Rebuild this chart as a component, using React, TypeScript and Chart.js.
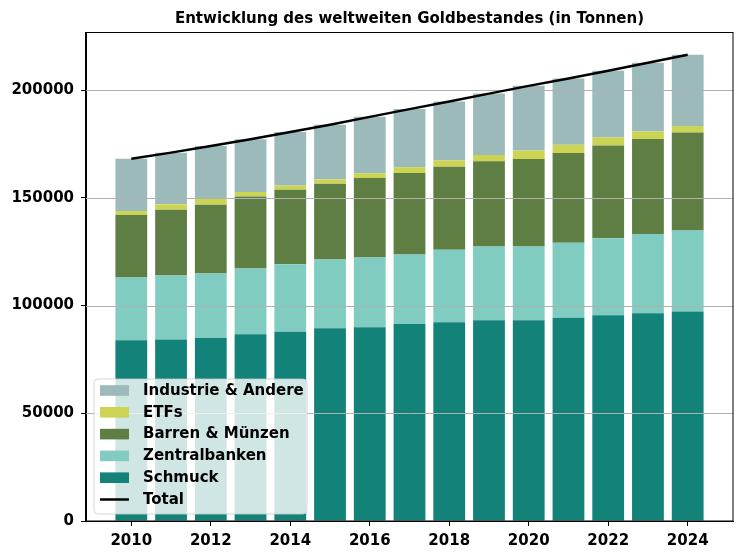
import React, { useEffect, useRef } from "react";
import { Chart, registerables } from "chart.js";

Chart.register(...registerables);

// Weltweiter Goldbestand nach Verwendung, in Tonnen
const years = [2010, 2011, 2012, 2013, 2014, 2015, 2016, 2017, 2018, 2019, 2020, 2021, 2022, 2023, 2024];
const schmuck = [83900, 84300, 85000, 86700, 87900, 89500, 89900, 91400, 92300, 93200, 93200, 94400, 95500, 96400, 97200];
const zentralbanken = [29100, 29700, 29900, 30500, 31300, 31900, 32400, 32300, 33600, 34200, 34200, 34800, 35700, 36800, 37700];
const barrenMuenzen = [29000, 30500, 31900, 33400, 34600, 35200, 36900, 37800, 38600, 39600, 40700, 41600, 43100, 44100, 45400];
const etfs = [1900, 2500, 3000, 2100, 2000, 2000, 2200, 2700, 2800, 2900, 3900, 3900, 3700, 3500, 3100];
const industrieAndere = [24300, 24000, 24300, 24500, 24800, 25300, 26200, 27000, 27400, 28500, 30000, 30700, 31000, 31900, 33000];
const total = [168200, 171000, 174100, 177200, 180600, 183900, 187600, 191200, 194700, 198400, 202000, 205400, 209000, 212700, 216400];

const yTicks = [0, 50000, 100000, 150000, 200000];
const xTicks = [2010, 2012, 2014, 2016, 2018, 2020, 2022, 2024];

const TITLE = "Entwicklung des weltweiten Goldbestandes (in Tonnen)";
const FONT = "'DejaVu Sans', sans-serif";

const toPoints = (vals: number[]) => vals.map((v, i) => ({ x: years[i], y: v }));

// Gitterlinien liegen über den Balken, aber unter der Total-Linie
const gridPlugin = {
  id: "gridOverBars",
  beforeDatasetDraw(chart: any, args: any) {
    if (args.meta.type !== "line") return;
    const { ctx, chartArea } = chart;
    const y = chart.scales.y;
    ctx.save();
    ctx.strokeStyle = "#b0b0b0";
    ctx.lineWidth = 1;
    for (const t of y.ticks) {
      if (t.value === 0) continue;
      const py = Math.round(y.getPixelForValue(t.value)) + 0.5;
      ctx.beginPath();
      ctx.moveTo(chartArea.left, py);
      ctx.lineTo(chartArea.right, py);
      ctx.stroke();
    }
    ctx.restore();
  },
};

// Rahmen, Titel und Legende
const decorPlugin = {
  id: "decor",
  afterDraw(chart: any) {
    const { ctx, chartArea } = chart;
    ctx.save();
    // Rahmen
    ctx.strokeStyle = "#000";
    ctx.lineWidth = 1;
    ctx.strokeRect(
      Math.round(chartArea.left) - 0.5,
      Math.round(chartArea.top) + 0.5,
      Math.round(chartArea.right - chartArea.left) + 0.5,
      Math.round(chartArea.bottom - chartArea.top) - 0.5
    );

    // Titel
    ctx.fillStyle = "#000";
    ctx.font = `bold 15px ${FONT}`;
    ctx.textAlign = "center";
    ctx.textBaseline = "middle";
    ctx.fillText(TITLE, (chartArea.left + chartArea.right) / 2, chartArea.top - 13);

    // Legende unten links
    const order = [4, 3, 2, 1, 0, 5];
    const rowH = 21.8;
    const boxW = 213;
    const boxH = 135;
    const bx = chartArea.left + 8;
    const by = chartArea.bottom - 7 - boxH;
    ctx.beginPath();
    const r = 4;
    ctx.moveTo(bx + r, by);
    ctx.lineTo(bx + boxW - r, by);
    ctx.quadraticCurveTo(bx + boxW, by, bx + boxW, by + r);
    ctx.lineTo(bx + boxW, by + boxH - r);
    ctx.quadraticCurveTo(bx + boxW, by + boxH, bx + boxW - r, by + boxH);
    ctx.lineTo(bx + r, by + boxH);
    ctx.quadraticCurveTo(bx, by + boxH, bx, by + boxH - r);
    ctx.lineTo(bx, by + r);
    ctx.quadraticCurveTo(bx, by, bx + r, by);
    ctx.closePath();
    ctx.fillStyle = "rgba(255,255,255,0.8)";
    ctx.fill();
    ctx.strokeStyle = "rgba(204,204,204,0.8)";
    ctx.stroke();

    ctx.textAlign = "left";
    ctx.textBaseline = "middle";
    ctx.font = `bold 15px ${FONT}`;
    order.forEach((di, row) => {
      const ds = chart.data.datasets[di];
      const cy = by + 11.5 + row * rowH;
      const sx = bx + 6;
      if (ds.type === "line") {
        ctx.strokeStyle = ds.borderColor;
        ctx.lineWidth = 2.5;
        ctx.beginPath();
        ctx.moveTo(sx, cy);
        ctx.lineTo(sx + 29, cy);
        ctx.stroke();
      } else {
        ctx.fillStyle = ds.backgroundColor;
        ctx.fillRect(sx, cy - 5.3, 29, 10.6);
      }
      ctx.fillStyle = "#000";
      ctx.fillText(ds.label, bx + 49, cy + 0.5);
    });
    ctx.restore();
  },
};

export default function App() {
  const canvasRef = useRef<HTMLCanvasElement | null>(null);

  useEffect(() => {
    document.body.style.margin = "0";
    const canvas = canvasRef.current;
    if (!canvas) return;

    const barBase = { type: "bar" as const, stack: "gold", order: 1, borderWidth: 0, barPercentage: 0.8, categoryPercentage: 1.0 };

    const chart = new Chart(canvas, {
      type: "bar",
      data: {
        datasets: [
          { ...barBase, label: "Schmuck", data: toPoints(schmuck), backgroundColor: "#138279" },
          { ...barBase, label: "Zentralbanken", data: toPoints(zentralbanken), backgroundColor: "#80ccc1" },
          { ...barBase, label: "Barren & Münzen", data: toPoints(barrenMuenzen), backgroundColor: "#5e7e44" },
          { ...barBase, label: "ETFs", data: toPoints(etfs), backgroundColor: "#ccd454" },
          { ...barBase, label: "Industrie & Andere", data: toPoints(industrieAndere), backgroundColor: "#9cbab9" },
          {
            type: "line",
            label: "Total",
            data: toPoints(total),
            stack: "total",
            order: 0,
            borderColor: "#000000",
            backgroundColor: "#000000",
            borderWidth: 2.5,
            pointRadius: 0,
            tension: 0,
            fill: false,
          },
        ] as any,
      },
      options: {
        responsive: false,
        animation: false,
        layout: { padding: { top: 32, right: 14, left: 0, bottom: 0 } },
        plugins: {
          legend: { display: false },
          title: { display: false },
          tooltip: { enabled: false },
        },
        scales: {
          x: {
            type: "linear",
            stacked: true,
            offset: false,
            min: 2008.86,
            max: 2025.14,
            afterBuildTicks: (s: any) => {
              s.ticks = xTicks.map((v) => ({ value: v }));
            },
            afterFit: (s: any) => {
              s.height = 39;
            },
            grid: { display: true, offset: false, drawOnChartArea: false, drawTicks: true, tickLength: 5, color: "#000", lineWidth: 1 },
            border: { display: true, color: "#000", width: 1 },
            ticks: {
              padding: 6,
              color: "#000",
              maxRotation: 0,
              autoSkip: false,
              font: { family: FONT, size: 15, weight: "bold" },
              callback: (v: any) => String(v),
            },
          },
          y: {
            type: "linear",
            stacked: true,
            min: 0,
            max: 227000,
            afterBuildTicks: (s: any) => {
              s.ticks = yTicks.map((v) => ({ value: v }));
            },
            afterFit: (s: any) => {
              s.width = 86;
            },
            grid: { display: true, drawOnChartArea: false, drawTicks: true, tickLength: 5, color: "#000", lineWidth: 1 },
            border: { display: true, color: "#000", width: 1 },
            ticks: {
              padding: 7,
              color: "#000",
              autoSkip: false,
              font: { family: FONT, size: 15, weight: "bold" },
              callback: (v: any) => String(v),
            },
          },
        },
      } as any,
      plugins: [gridPlugin, decorPlugin],
    });

    return () => chart.destroy();
  }, []);

  return (
    <div style={{ width: 747, height: 560, background: "#fff" }}>
      <canvas ref={canvasRef} width={747} height={560} style={{ display: "block" }} />
    </div>
  );
}
